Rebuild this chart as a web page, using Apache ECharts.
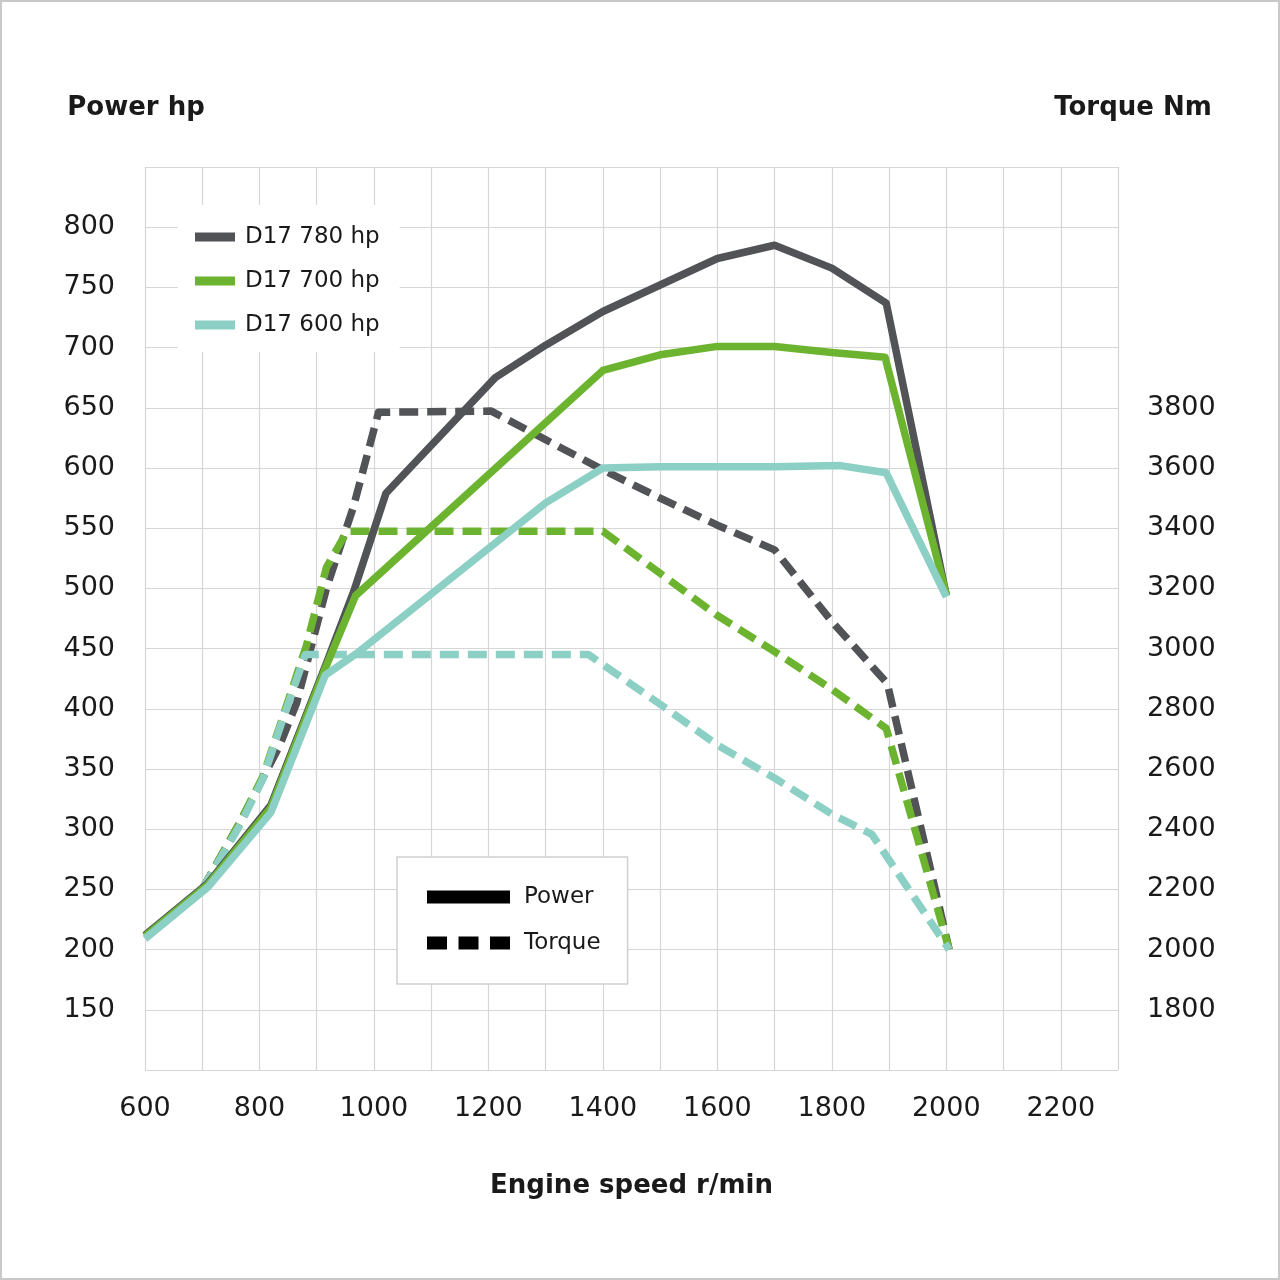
<!DOCTYPE html>
<html>
<head>
<meta charset="utf-8">
<script src="https://cdn.jsdelivr.net/npm/echarts@6/dist/echarts.min.js"></script>
<style>
html,body{margin:0;padding:0;background:#fff;}
#chart{width:1280px;height:1280px;}
</style>
</head>
<body>
<div id="chart"></div>
<script>
// ---- data (engine speed r/min, value) ----
const engines = ['D17 780 hp', 'D17 700 hp', 'D17 600 hp'];
const engineColors = ['#515356', '#6cb42f', '#8ccfc4'];

const power780 = [[600,212],[710,255],[820,320],[917,438],[965,498],[1021,579],[1212,675],[1300,702],[1400,730],[1500,752],[1600,774],[1700,785],[1800,766],[1895,737],[2000,494]];
const power700 = [[600,211],[710,254],[820,318],[917,436],[968,494],[1400,681],[1500,694],[1600,701],[1700,701],[1800,696],[1893,692],[2000,495]];
const power600 = [[600,209],[710,252],[820,314],[915,428],[970,446],[1300,571],[1400,600],[1500,601],[1600,601],[1700,601],[1815,602],[1895,596],[2000,493]];

const torque780 = [[700,2200],[765,2420],[806,2570],[835,2677],[865,2820],[917,3200],[964,3470],[1008,3785],[1205,3789],[1400,3594],[1500,3500],[1600,3410],[1700,3328],[1800,3090],[1897,2884],[2005,2000]];
const torque700 = [[700,2200],[765,2420],[806,2575],[835,2740],[882,3010],[917,3270],[953,3390],[1400,3390],[1500,3250],[1600,3110],[1700,2990],[1800,2865],[1895,2735],[2005,2000]];
const torque600 = [[700,2200],[765,2410],[806,2567],[835,2733],[880,2980],[1375,2980],[1500,2815],[1600,2680],[1700,2570],[1800,2450],[1870,2383],[2005,2000]];

const xTickLabels = [600, 800, 1000, 1200, 1400, 1600, 1800, 2000, 2200];
const powerTickLabels = [150, 200, 250, 300, 350, 400, 450, 500, 550, 600, 650, 700, 750, 800];
const torqueTickLabels = [1800, 2000, 2200, 2400, 2600, 2800, 3000, 3200, 3400, 3600, 3800];

// ---- chart ----
const FONT = 'DejaVu Sans';
const TXT = '#1a1a1a';
const GRID = '#d6d6d6';

const chart = echarts.init(document.getElementById('chart'), null, {renderer: 'canvas'});

const powerSets = [power780, power700, power600];
const torqueSets = [torque780, torque700, torque600];

const series = [];
torqueSets.forEach((d, i) => {
  series.push({
    name: engines[i], type: 'line', yAxisIndex: 1, data: d,
    showSymbol: false, symbol: 'none', color: engineColors[i],
    lineStyle: {width: 7.5, color: engineColors[i], type: [19, 9], cap: 'butt', join: 'round'},
    z: 2
  });
});
powerSets.forEach((d, i) => {
  series.push({
    name: engines[i], type: 'line', yAxisIndex: 0, data: d,
    showSymbol: false, symbol: 'none', color: engineColors[i],
    lineStyle: {width: 7.5, color: engineColors[i], type: 'solid', cap: 'butt', join: 'round'},
    z: 3
  });
});
// legend-only entries for line style key
series.push({name: 'Power', type: 'line', data: [], color: '#000', itemStyle: {color: '#000'}});
series.push({name: 'Torque', type: 'line', data: [], color: '#000', itemStyle: {color: '#000'}});

const option = {
  backgroundColor: '#fff',
  animation: false,
  graphic: [{
    type: 'rect', silent: true, z: -10,
    shape: {x: 1, y: 1, width: 1278, height: 1278},
    style: {fill: 'none', stroke: '#c8c8c8', lineWidth: 2}
  }],
  grid: {left: 145, right: 162, top: 167, bottom: 210, containLabel: false},
  xAxis: {
    type: 'value', min: 600, max: 2300, interval: 100,
    name: 'Engine speed r/min', nameLocation: 'middle', nameGap: 101,
    nameTextStyle: {fontFamily: FONT, fontSize: 26, fontWeight: 'bold', color: TXT, lineHeight: 30},
    axisLine: {show: false}, axisTick: {show: false},
    axisLabel: {
      margin: 25, fontFamily: FONT, fontSize: 27, color: TXT,
      formatter: v => xTickLabels.includes(v) ? String(v) : ''
    },
    splitLine: {show: true, lineStyle: {color: GRID, width: 1.2}}
  },
  yAxis: [{
    type: 'value', min: 100, max: 850, interval: 50, position: 'left',
    name: 'Power hp', nameLocation: 'end', nameGap: 44,
    nameTextStyle: {fontFamily: FONT, fontSize: 26, fontWeight: 'bold', color: TXT, lineHeight: 30, padding: [0, 18, 0, 0]},
    axisLine: {show: false}, axisTick: {show: false},
    axisLabel: {
      margin: 30, fontFamily: FONT, fontSize: 27, color: TXT,
      formatter: v => powerTickLabels.includes(v) ? String(v) : ''
    },
    splitLine: {show: true, lineStyle: {color: GRID, width: 1.2}}
  }, {
    type: 'value', min: 1600, max: 4600, interval: 200, position: 'right',
    name: 'Torque Nm', nameLocation: 'end', nameGap: 44,
    nameTextStyle: {fontFamily: FONT, fontSize: 26, fontWeight: 'bold', color: TXT, lineHeight: 30, padding: [0, 0, 0, 30]},
    axisLine: {show: false}, axisTick: {show: false},
    axisLabel: {
      margin: 29, fontFamily: FONT, fontSize: 27, color: TXT,
      formatter: v => torqueTickLabels.includes(v) ? String(v) : ''
    },
    splitLine: {show: false}
  }],
  legend: [{
    data: engines.map(n => ({name: n, icon: 'rect'})),
    orient: 'vertical', left: 178, top: 205,
    padding: [19, 20, 14, 17],
    backgroundColor: '#fff',
    itemWidth: 40, itemHeight: 9, itemGap: 18,
    selectedMode: false,
    itemStyle: {borderWidth: 0},
    textStyle: {fontFamily: FONT, fontSize: 23, color: TXT, lineHeight: 26, padding: [0, 0, 0, 5]}
  }, {
    data: [
      {name: 'Power', icon: 'rect'},
      {name: 'Torque', icon: 'path://M0,0h20v13h-20z M31.5,0h20v13h-20z M63,0h20v13h-20z'}
    ],
    orient: 'vertical', left: 397, top: 857,
    padding: [27, 27, 28, 30],
    backgroundColor: '#fff', borderColor: '#d0d0d0', borderWidth: 1.5,
    itemWidth: 83, itemHeight: 13, itemGap: 20,
    selectedMode: false,
    itemStyle: {borderWidth: 0},
    textStyle: {fontFamily: FONT, fontSize: 23, color: TXT, lineHeight: 26, padding: [0, 0, 0, 9]}
  }],
  series: series
};

chart.setOption(option);
</script>
</body>
</html>
